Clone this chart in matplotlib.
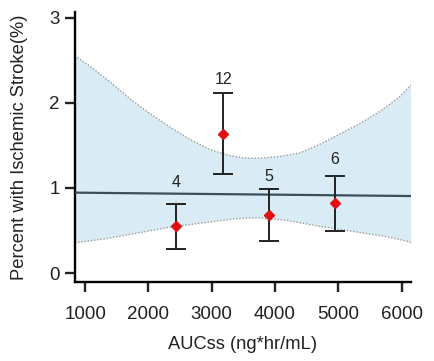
import matplotlib
matplotlib.use("Agg")
import matplotlib.pyplot as plt

plt.rcParams['font.family'] = ['Liberation Sans', 'DejaVu Sans']

# data
auc = [2442, 3184, 3905, 4950]
pct = [0.555, 1.64, 0.685, 0.82]
err_lo = [0.28, 1.17, 0.38, 0.495]
err_hi = [0.81, 2.12, 0.99, 1.14]
n_labels = ["4", "12", "5", "6"]
label_y = [1.07, 2.27, 1.14, 1.33]

reg_x = [840, 6150]
reg_y = [0.945, 0.905]

upper_x = [840, 885, 1094, 1408, 1721, 2034, 2348, 2661, 2975, 3288, 3445, 3602,
           3759, 4072, 4386, 4699, 5013, 5326, 5639, 5953, 6110, 6150]
upper_y = [2.56, 2.53, 2.42, 2.24, 2.04, 1.87, 1.71, 1.57, 1.45, 1.38, 1.36, 1.35,
           1.35, 1.37, 1.41, 1.51, 1.63, 1.75, 1.89, 2.06, 2.18, 2.21]
lower_x = [840, 885, 1303, 1826, 2348, 2870, 3393, 3706, 4177, 4699, 5221, 5744,
           6110, 6150]
lower_y = [0.35, 0.36, 0.40, 0.47, 0.54, 0.59, 0.64, 0.65, 0.62, 0.55, 0.49, 0.43,
           0.37, 0.36]

x_ticks = [1000, 2000, 3000, 4000, 5000, 6000]
y_ticks = [0, 1, 2, 3]

fig = plt.figure(figsize=(4.34, 3.61), dpi=100)
ax = fig.add_axes([0.173, 0.219, 0.774, 0.748])

# polygon for the confidence band
poly_x = upper_x + lower_x[::-1]
poly_y = upper_y + lower_y[::-1]
ax.fill(poly_x, poly_y, color='#d9ebf5', lw=0, zorder=1)
ax.plot(upper_x, upper_y, ls=(0, (1, 1.3)), color='#999999', lw=1.0, zorder=2)
ax.plot(lower_x, lower_y, ls=(0, (1, 1.3)), color='#999999', lw=1.0, zorder=2)
ax.plot(reg_x, reg_y, color='#3a4f5b', lw=1.6, zorder=3)

yerr = [[p - l for p, l in zip(pct, err_lo)], [h - p for p, h in zip(pct, err_hi)]]
ax.errorbar(auc, pct, yerr=yerr, fmt='none', ecolor='#222222', elinewidth=1.4,
            capsize=7, capthick=1.4, zorder=4)
ax.plot(auc, pct, 'D', color='#e01010', ms=5.5, zorder=5, mec='#e01010')

for x, y, t in zip(auc, label_y, n_labels):
    ax.text(x, y, t, ha='center', va='center', fontsize=11.5, color='#222222')

ax.set_xlim(840, 6150)
ax.set_ylim(-0.105, 3.07)
ax.set_xticks(x_ticks)
ax.set_yticks(y_ticks)
for s in ['top', 'right']:
    ax.spines[s].set_visible(False)
for s in ['left', 'bottom']:
    ax.spines[s].set_linewidth(1.7)
ax.tick_params(axis='both', length=7, width=1.7, labelsize=13.5, colors='#222222')
ax.tick_params(axis='x', pad=10)
ax.tick_params(axis='y', pad=4)
ax.set_xlabel('AUCss (ng*hr/mL)', fontsize=13.2, color='#222222', labelpad=10)
ax.set_ylabel('Percent with Ischemic Stroke(%)', fontsize=13.2, color='#222222', labelpad=15)

fig.savefig('out.png', dpi=100)
